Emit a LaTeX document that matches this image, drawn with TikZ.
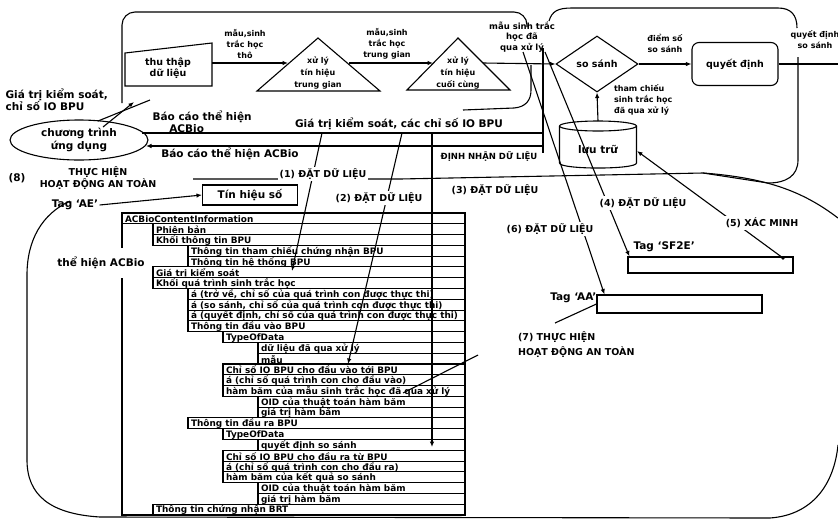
\documentclass[tikz,border=0pt]{standalone}
\usepackage{fontspec}
\setmainfont{DejaVu Sans}
\usetikzlibrary{shapes.geometric,arrows.meta}
\begin{document}
\begin{tikzpicture}[x=1pt,y=-1pt,line width=1.1pt,
  arr/.style={-{Latex[length=5.5pt,width=4.5pt]}},
  big/.style={font=\fontsize{10.5}{12.5}\selectfont\bfseries,inner sep=1pt},
  capl/.style={font=\fontsize{9.5}{12}\selectfont\bfseries,inner sep=1.5pt},
  lab/.style={font=\fontsize{8}{11}\selectfont\bfseries,align=center,inner sep=0.5pt},
  ntext/.style={font=\fontsize{9.5}{11}\selectfont\bfseries,align=center},
  rowt/.style={font=\fontsize{8.9}{9}\selectfont\bfseries,anchor=west,inner sep=0pt},
]
\useasboundingbox (0,0) rectangle (838,523);

% ---------- region outlines ----------
\draw[rounded corners=13pt] (122,103) -- (122,12) -- (527,12) -- (527,27);
\draw (549,21) .. controls (552,11) and (558,8) .. (572,8) -- (778,8) .. controls (791,8) and (797,15) .. (797,28);
\draw (798,57) -- (798,160) .. controls (798,176) and (786,183) .. (768,183) -- (703,173);
\draw (838,218) .. controls (805,193) and (770,178) .. (703,173) -- (400,179) -- (193,179);
\draw (70,201) .. controls (42,214) and (27,240) .. (27,275) -- (27,460) .. controls (27,495) and (50,514) .. (100,517) -- (770,518) .. controls (812,515) and (834,485) .. (838,445);
\draw (463,110) -- (514,108) .. controls (526,107) and (531,100) .. (531,90) -- (531,65);

% ---------- processing flow ----------
\coordinate (thuTL) at (125,53);
\coordinate (thuTR) at (212,43);
\coordinate (thuBR) at (212,86);
\coordinate (thuBL) at (125,86);
\draw (thuTL) -- (thuTR) -- (thuBR) -- (thuBL) -- cycle;
\node[ntext] (thu) at (168,68) {thu thập\\dữ liệu};
\coordinate (thuE) at (212,63);

\coordinate (t1A) at (318,38);
\coordinate (t1L) at (257,91);
\coordinate (t1R) at (380,91);
\draw (t1A) -- (t1R) -- (t1L) -- cycle;
\node[lab,font=\fontsize{8}{12}\selectfont\bfseries] (t1) at (318,73) {xử lý\\tín hiệu\\trung gian};
\coordinate (t1W) at (288,63);
\coordinate (t1E) at (349,63);

\coordinate (t2A) at (458,38);
\coordinate (t2L) at (407,90);
\coordinate (t2R) at (510,90);
\draw (t2A) -- (t2R) -- (t2L) -- cycle;
\node[lab,font=\fontsize{8}{12}\selectfont\bfseries] (t2) at (458,73) {xử lý\\tín hiệu\\cuối cùng};
\coordinate (t2W) at (433,63);
\coordinate (t2E) at (483,63);

\node[diamond,draw,aspect=1.5,minimum width=82pt,minimum height=56pt,inner sep=0pt,ntext] (cmp) at (597,64) {so sánh};
\node[draw,rounded corners=7pt,minimum width=86pt,minimum height=43pt,ntext] (dec) at (735,64) {quyết định};
\coordinate (outR) at (838,64);

% storage cylinder
\draw (598,126) ellipse [x radius=38.5, y radius=5];
\draw (559.5,126) -- (559.5,163) .. controls (559.5,169.7) and (636.5,169.7) .. (636.5,163) -- (636.5,126);
\node[big] (luu) at (598,149) {lưu trữ};
\coordinate (luuTop) at (598,121);
\coordinate (luuE) at (637,151);

\draw[arr] (thuE) -- (t1W);
\draw[arr] (t1E) -- (t2W);
\draw[arr] (t2E) -- (cmp.west);
\draw[arr] (cmp.east) -- (dec.west);
\draw (dec.east) -- (outR);
\draw[arr] (luuTop) -- (cmp.south);

% flow labels
\node[lab] (m1) at (245,44) {mẫu,sinh\\trắc học\\thô};
\node[lab] (m2) at (387,44) {mẫu,sinh\\trắc học\\trung gian};
\node[lab,font=\fontsize{8.5}{10.5}\selectfont\bfseries] (m3) at (522,37) {mẫu sinh trắc\\học đã\\qua xử lý};
\node[lab] (m4) at (665,43) {điểm số\\so sánh};
\node[lab] (m5) at (815,40) {quyết định\\so sánh};
\node[lab,align=left,anchor=west] (m6) at (613,100) {tham chiếu\\sinh trắc học\\đã qua xử lý};

% ---------- application program ----------
\node[ellipse,draw,minimum width=138pt,minimum height=40pt,inner sep=0pt,align=center,font=\fontsize{10.5}{13}\selectfont\bfseries] (app) at (79,140) {chương trình\\ứng dụng};
\node[big,align=left,anchor=west] (gk) at (4,100) {Giá trị kiểm soát,\\chỉ số IO BPU};
\coordinate (g1) at (98,121);
\coordinate (g2) at (150,100);
\coordinate (g3) at (103,127);
\coordinate (g4) at (134,102);
\draw (g1) -- (g2);
\draw[arr] (g3) -- (g4);

\node[big,align=left,anchor=west] (bc1) at (151,122) {Báo cáo thể hiện\\\hspace*{1.6em}ACBio};
\node[big] (gtks) at (399,124) {Giá trị kiểm soát, các chỉ số IO BPU};
\node[big] (bc2) at (230,154) {Báo cáo thể hiện ACBio};
\node[big,font=\fontsize{8.5}{10}\selectfont\bfseries] (dinh) at (489,156) {ĐỊNH NHẬN DỮ LIỆU};

\coordinate (appA) at (142,133);
\coordinate (appB) at (146,146);
\coordinate (c1e) at (543,133);
\coordinate (c2e) at (543,146);
\coordinate (tap1) at (543,48);
\coordinate (tap2) at (543,153);
\draw (appA) -- (c1e);
\draw[arr] (c2e) -- (appB);
\draw (tap1) -- (tap2);

% ---------- ACBio table ----------
\draw (122,213) rectangle (465,515);
\foreach \lv/\txt [count=\i] in {
 0/{ACBioContentInformation},
 1/{Phiên bản},
 1/{Khối thông tin BPU},
 2/{Thông tin tham chiếu chứng nhận BPU},
 2/{Thông tin hệ thống BPU},
 1/{Giá trị kiểm soát},
 1/{Khối quá trình sinh trắc học},
 2/{á (trở về, chỉ số của quá trình con được thực thi)},
 2/{á (so sánh, chỉ số của quá trình con được thực thi)},
 2/{á (quyết định, chỉ số của quá trình con được thực thi)},
 2/{Thông tin đầu vào BPU},
 3/{TypeOfData},
 4/{dữ liệu đã qua xử lý},
 4/{mẫu},
 3/{Chỉ số IO BPU cho đầu vào tới BPU},
 3/{á (chỉ số quá trình con cho đầu vào)},
 3/{hàm băm của mẫu sinh trắc học đã qua xử lý},
 4/{OID của thuật toán hàm băm},
 4/{giá trị hàm băm},
 2/{Thông tin đầu ra BPU},
 3/{TypeOfData},
 4/{quyết định so sánh},
 3/{Chỉ số IO BPU cho đầu ra từ BPU},
 3/{á (chỉ số quá trình con cho đầu ra)},
 3/{hàm băm của kết quả so sánh},
 4/{OID của thuật toán hàm băm},
 4/{giá trị hàm băm},
 1/{Thông tin chứng nhận BRT}} {
  \pgfmathsetmacro\xl{{122,153,188,223,258}[\lv]}
  \pgfmathsetmacro\yt{213+(\i-1)*10.786}
  \pgfmathsetmacro\yb{\yt+10.786}
  \pgfmathsetmacro\ym{(\yt+\yb)/2+0.6}
  \draw (\xl,\yt) rectangle (465,\yb);
  \node[rowt] (r\i) at (\xl+2.5,\ym) {\txt};
}

% ---------- boxes of the lower area ----------
\node[draw,minimum width=95pt,minimum height=20pt,big] (tin) at (250,195) {Tín hiệu số};
\node[draw,minimum width=165pt,minimum height=16pt,inner sep=0pt] (sf) at (710.5,265) {};
\node[draw,minimum width=165pt,minimum height=18pt,inner sep=0pt] (aa) at (679.5,304) {};
\node[big] (tagAE) at (75,205) {Tag ‘AE’};
\node[big,anchor=west] (tagSF) at (632,247) {Tag ‘SF2E’};
\node[big,anchor=east] (tagAA) at (598,298) {Tag ‘AA’};
\node[big,fill=white,inner ysep=9pt] (the) at (101,263) {thể hiện ACBio};

% ---------- data setting connectors ----------
\coordinate (s1) at (322,133);
\coordinate (e1) at (292,271);
\coordinate (s2) at (402,133);
\coordinate (e2) at (348,364);
\coordinate (s3) at (432,133);
\coordinate (e3) at (432,447);
\coordinate (s4) at (545,52);
\coordinate (s6) at (523,52);
\coordinate (sfNE) at (783,258);
\coordinate (s7) at (555,323);
\coordinate (h1) at (478,355);
\coordinate (h2) at (403,393);
\draw[arr] (s1) -- (e1);
\draw[arr] (s2) -- (e2);
\draw[arr] (s3) -- (e3);
\draw[arr] (s4) -- ([xshift=2pt]sf.north west);
\draw[arr] (s6) -- ([xshift=8pt]aa.north west);
\draw[arr] (sfNE) -- (luuE);
\fill (sfNE) circle (1.8pt);
\draw (s7) -- (aa.west);
\draw (h1) -- (h2);
\draw[arr] (tagAE.east) -- (tin.west);

\node[capl,fill=white] (d1) at (323,174) {(1) ĐẶT DỮ LIỆU};
\node[capl,fill=white] (d2) at (379,198) {(2) ĐẶT DỮ LIỆU};
\node[capl] (d3) at (495,190) {(3) ĐẶT DỮ LIỆU};
\node[capl,fill=white] (d4) at (643,203) {(4) ĐẶT DỮ LIỆU};
\node[capl,fill=white] (d5) at (762,223) {(5) XÁC MINH};
\node[capl,fill=white] (d6) at (550,229) {(6) ĐẶT DỮ LIỆU};
\node[capl,align=left,anchor=west,font=\fontsize{9.5}{15}\selectfont\bfseries] (d7) at (516,345) {(7) THỰC HIỆN\\HOẠT ĐỘNG AN TOÀN};
\node[capl,font=\fontsize{10.5}{12}\selectfont\bfseries] (d8n) at (17,178) {(8)};
\node[capl,align=center] (d8) at (98,178) {THỰC HIỆN\\HOẠT ĐỘNG AN TOÀN};
\end{tikzpicture}
\end{document}
